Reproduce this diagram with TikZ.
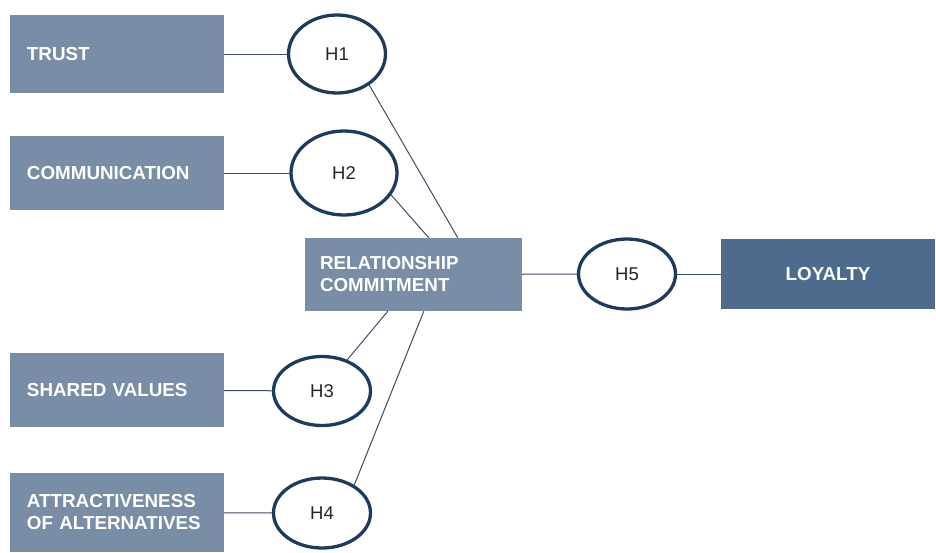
\documentclass[tikz,border=0pt]{standalone}
\usepackage{fontspec}
\setmainfont{Liberation Sans}
\usetikzlibrary{shapes.geometric}
\definecolor{boxgrey}{HTML}{7A8DA6}
\definecolor{boxdark}{HTML}{4E6A8D}
\definecolor{ringblue}{HTML}{1E3A5F}
\definecolor{linegrey}{HTML}{3D4D63}
\tikzset{
	factor/.style={rectangle, fill=boxgrey, text=white, font=\fontsize{18.8}{22}\selectfont\bfseries,
		minimum width=214, minimum height=74, inner xsep=17, text width=180, align=left},
	hyp/.style={ellipse, draw=ringblue, line width=3.3, fill=white, text=black!85,
		font=\fontsize{18.5}{22}\selectfont, inner sep=0, minimum width=97, minimum height=70},
	link/.style={draw=linegrey, line width=1}
}
\begin{document}
\begin{tikzpicture}[x=1pt,y=-1pt]
		\useasboundingbox (0,0) rectangle (936,552);
		% factors
			\foreach \name/\y/\h/\txt in {trust/54/78/TRUST,comm/173/74/COMMUNICATION,shared/390/74/SHARED VALUES,attr/512.5/79/{ATTRACTIVENESS\\OF ALTERNATIVES}}{
				\node[factor, minimum height=\h] (\name) at (117,\y) {\txt};
				}
		% commitment and loyalty
			\node[factor, minimum width=217, text width=187, inner xsep=15, minimum height=73] (rc) at (413.5,274.5) {RELATIONSHIP\\COMMITMENT};
			\node[factor, fill=boxdark, align=center, minimum height=70] (loyal) at (828,274) {LOYALTY};
		% hypotheses
			\node[hyp, minimum height=78] (h1) at (337,54) {H1};
			\node[hyp, minimum width=106, minimum height=84] (h2) at (344,173) {H2};
			\node[hyp, minimum height=69] (h3) at (322,391) {H3};
			\node[hyp] (h4) at (322,513) {H4};
			\node[hyp] (h5) at (627,274) {H5};
		% links
			\foreach \a/\b in {trust/h1,comm/h2,shared/h3,attr/h4,rc/h5,h5/loyal}{
				\draw[link] (\a) -- (\b);
				}
			\draw[link] (h1.-44) -- ([xshift=153]rc.north west);
			\draw[link] (h2.-25) -- ([xshift=124]rc.north west);
			\draw[link] (h3.51) -- ([xshift=83]rc.south west);
			\draw[link] (h4.41) -- ([xshift=119]rc.south west);
	\end{tikzpicture}
\end{document}
